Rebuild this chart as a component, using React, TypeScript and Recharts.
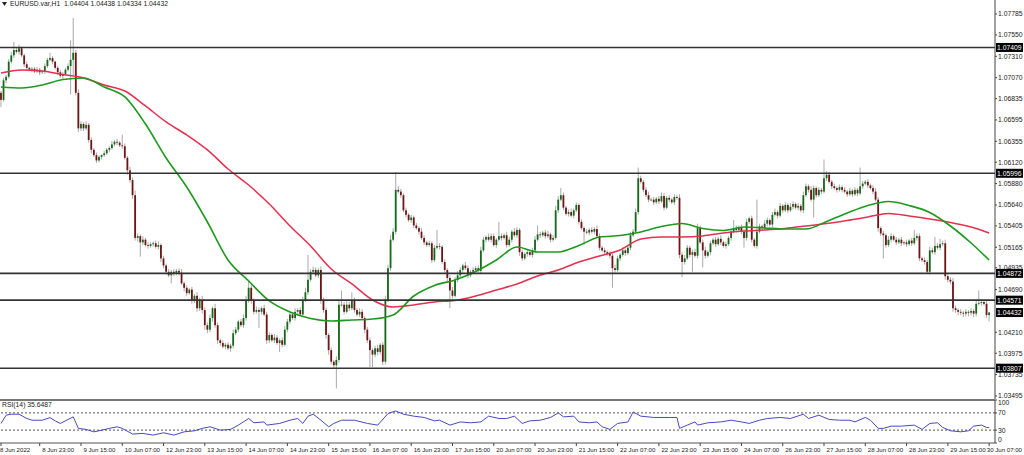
import React from "react";
import { ComposedChart, Bar, Line, XAxis, YAxis, ReferenceLine } from "recharts";

const FONT = '"Liberation Sans", Arial, sans-serif';
const BULL = "#15691a";
const BEAR = "#6e1616";
const WICK = "#a9a9a9";

// prices are kept in pips above this base
const BASE = 1.03;

const firstOpen = 390;

const closes = [
  382, 404, 408, 425, 432, 438, 436, 440, 432, 422, 418, 416, 417, 414, 416, 413,
  414, 420, 427, 429, 425, 418, 413, 409, 411, 416, 420, 427, 435, 390, 350, 355,
  350, 354, 337, 326, 320, 314, 318, 320, 322, 326, 328, 332, 335, 334, 331, 330,
  317, 303, 292, 275, 227, 229, 222, 225, 219, 218, 220, 221, 217, 219, 204, 196,
  189, 185, 189, 187, 190, 188, 176, 171, 165, 169, 157, 162, 148, 157, 146, 129,
  124, 137, 148, 129, 112, 109, 105, 107, 103, 106, 120, 124, 133, 129, 137, 157,
  171, 157, 144, 146, 144, 148, 141, 112, 118, 112, 115, 109, 112, 107, 124, 133,
  141, 137, 144, 146, 141, 157, 166, 180, 189, 191, 185, 191, 157, 146, 118, 101,
  88, 84, 90, 152, 152, 144, 152, 148, 157, 146, 141, 144, 137, 124, 112, 101,
  96, 103, 99, 107, 88, 157, 193, 225, 234, 281, 279, 275, 258, 253, 247, 250,
  241, 238, 234, 227, 222, 219, 221, 202, 216, 218, 217, 200, 191, 182, 168, 162,
  180, 185, 191, 196, 193, 185, 189, 191, 193, 190, 213, 225, 228, 225, 229, 219,
  225, 229, 227, 230, 219, 225, 234, 230, 236, 211, 204, 209, 211, 208, 213, 225,
  231, 230, 233, 229, 231, 225, 227, 258, 270, 275, 261, 254, 256, 252, 258, 264,
  245, 238, 234, 233, 236, 234, 237, 229, 216, 213, 211, 209, 207, 193, 191, 204,
  208, 213, 210, 216, 230, 234, 256, 294, 290, 281, 275, 270, 270, 267, 271, 268,
  274, 261, 272, 270, 267, 273, 272, 208, 200, 204, 216, 208, 211, 207, 238, 222,
  213, 207, 211, 221, 225, 220, 226, 222, 218, 220, 227, 234, 238, 236, 239, 234,
  227, 245, 249, 225, 218, 234, 240, 238, 243, 247, 242, 253, 256, 252, 263, 258,
  264, 258, 262, 265, 261, 263, 258, 275, 285, 281, 270, 283, 275, 281, 279, 294,
  298, 290, 285, 283, 281, 284, 281, 279, 276, 280, 276, 281, 277, 285, 288, 290,
  286, 283, 279, 270, 238, 232, 230, 219, 225, 229, 225, 222, 225, 221, 222, 220,
  224, 221, 227, 229, 204, 202, 200, 189, 213, 211, 218, 216, 220, 221, 184, 180,
  178, 148, 146, 144, 143, 142, 144, 143, 145, 142, 153, 154, 155, 153, 140.4, 143.2,
];

const wickUp = [
  2, 3, 2, 3, 4, 9, 3, 4, 2, 2, 3, 1, 2, 2, 3, 2,
  2, 3, 2, 6, 2, 1, 2, 3, 2, 2, 3, 22, 39, 3, 4, 3,
  2, 4, 2, 3, 2, 3, 2, 1, 3, 2, 2, 4, 2, 3, 2, 12,
  3, 2, 4, 3, 5, 3, 2, 4, 2, 3, 2, 2, 3, 4, 2, 3,
  2, 3, 2, 3, 2, 3, 4, 2, 3, 2, 3, 2, 4, 3, 5, 3,
  3, 4, 2, 5, 3, 2, 3, 2, 3, 2, 4, 3, 2, 3, 4, 5,
  9, 3, 2, 4, 3, 2, 4, 3, 3, 2, 4, 3, 2, 3, 4, 3,
  2, 3, 4, 2, 3, 4, 5, 28, 3, 4, 3, 2, 4, 3, 3, 2,
  3, 2, 4, 5, 16, 3, 4, 3, 9, 3, 2, 4, 3, 2, 3, 3,
  2, 3, 4, 2, 3, 5, 4, 5, 4, 20, 4, 3, 2, 3, 2, 3,
  2, 3, 2, 4, 3, 2, 3, 2, 3, 18, 3, 2, 3, 2, 3, 4,
  3, 5, 3, 2, 4, 3, 2, 3, 2, 3, 4, 3, 2, 4, 3, 3,
  2, 16, 3, 2, 4, 3, 2, 4, 3, 2, 3, 2, 3, 2, 3, 4,
  10, 3, 2, 3, 4, 2, 3, 5, 4, 8, 3, 2, 3, 4, 2, 3,
  2, 3, 2, 3, 2, 3, 2, 4, 3, 2, 3, 2, 3, 2, 4, 3,
  2, 3, 2, 3, 4, 3, 4, 12, 3, 2, 3, 4, 2, 3, 2, 3,
  4, 3, 2, 3, 2, 3, 2, 4, 3, 4, 3, 2, 3, 4, 5, 3,
  3, 4, 2, 3, 2, 3, 2, 4, 2, 3, 2, 3, 9, 3, 2, 3,
  3, 4, 2, 3, 2, 36, 3, 2, 4, 3, 2, 3, 4, 2, 3, 2,
  3, 2, 4, 3, 2, 3, 2, 4, 3, 2, 4, 3, 2, 3, 2, 21,
  4, 3, 2, 3, 2, 3, 2, 3, 2, 3, 2, 3, 2, 21, 3, 2,
  3, 2, 3, 4, 3, 2, 3, 2, 4, 3, 2, 3, 2, 3, 2, 3,
  2, 3, 9, 3, 3, 2, 3, 2, 4, 3, 10, 3, 6, 3, 4, 3,
  3, 4, 3, 2, 3, 2, 3, 2, 3, 2, 4, 14, 3, 2, 3, 0.6,
];

const wickDown = [
  8, 2, 3, 2, 2, 3, 2, 3, 2, 3, 2, 2, 3, 2, 2, 3,
  2, 3, 2, 2, 3, 2, 3, 2, 3, 2, 2, 32, 19, 3, 4, 3,
  3, 2, 3, 4, 2, 3, 2, 3, 2, 2, 3, 2, 2, 3, 2, 3,
  2, 5, 3, 4, 3, 4, 16, 3, 2, 3, 2, 3, 2, 3, 4, 3,
  3, 2, 9, 3, 2, 3, 2, 4, 3, 2, 4, 3, 4, 3, 4, 5,
  4, 3, 4, 3, 4, 3, 2, 3, 2, 4, 3, 2, 3, 2, 3, 3,
  3, 4, 3, 2, 18, 3, 2, 4, 3, 2, 3, 2, 10, 3, 2, 3,
  3, 2, 3, 4, 2, 3, 2, 3, 2, 3, 2, 3, 4, 3, 4, 5,
  3, 4, 26, 3, 2, 3, 2, 3, 2, 3, 2, 3, 2, 4, 3, 19,
  14, 3, 4, 3, 4, 3, 2, 3, 2, 3, 2, 3, 2, 3, 2, 3,
  3, 2, 3, 2, 3, 2, 2, 3, 2, 2, 3, 2, 3, 4, 20, 3,
  2, 3, 2, 3, 2, 3, 2, 3, 2, 3, 3, 2, 3, 2, 3, 2,
  3, 2, 3, 2, 3, 2, 3, 2, 3, 4, 3, 2, 3, 2, 3, 2,
  2, 3, 2, 3, 2, 3, 2, 2, 3, 2, 3, 2, 3, 2, 3, 2,
  3, 2, 15, 2, 3, 2, 3, 2, 3, 2, 3, 2, 3, 22, 3, 2,
  3, 2, 3, 2, 3, 2, 2, 3, 2, 3, 2, 3, 2, 3, 2, 3,
  2, 3, 2, 3, 2, 3, 2, 4, 17, 3, 2, 3, 19, 2, 3, 2,
  19, 3, 2, 3, 2, 3, 2, 3, 2, 3, 2, 3, 2, 3, 2, 3,
  11, 3, 2, 3, 2, 3, 2, 3, 2, 3, 2, 3, 2, 3, 2, 3,
  2, 3, 2, 3, 2, 3, 2, 3, 2, 3, 2, 20, 3, 2, 3, 2,
  3, 2, 3, 2, 3, 2, 3, 2, 3, 2, 3, 2, 3, 2, 3, 2,
  3, 2, 3, 2, 4, 3, 26, 3, 2, 3, 2, 3, 2, 3, 2, 3,
  2, 3, 2, 3, 3, 2, 3, 2, 3, 2, 3, 2, 3, 2, 4, 3,
  3, 4, 3, 4, 3, 4, 3, 4, 3, 4, 3, 2, 3, 2, 3, 7,
];

// moving averages read every 8 bars
const maIndex = [
  0, 8, 16, 24, 32, 40, 48, 56, 64, 72, 80, 88, 96, 104, 112, 120, 128, 136, 144, 152,
  160, 168, 176, 184, 192, 200, 208, 216, 224, 232, 240, 248, 256, 264, 272, 280, 288,
  296, 304, 312, 320, 328, 336, 344, 352, 360, 368, 376, 383,
];
const maFast = [
  396.5, 395.4, 398.7, 404.9, 406.6, 396.5, 385.3, 354.9, 316.8, 284.2, 244.9, 202.2,
  178.6, 156.2, 143.8, 136.5, 133.7, 134.8, 135.9, 140.5, 161.8, 173.6, 179.8, 189.3,
  202.2, 216.8, 211.2, 211.2, 218.5, 228.0, 229.7, 233.7, 239.8, 243.2, 237.6, 235.4,
  239.3, 238.2, 237.0, 237.0, 245.5, 255.0, 263.4, 267.9, 263.4, 255.6, 240.4, 221.3, 202.2,
];
const maSlow = [
  412.2, 415.6, 414.5, 410.5, 406.6, 398.7, 392.0, 375.2, 357.2, 342.6, 325.8, 304.4,
  286.4, 265.1, 240.4, 217.9, 192.1, 175.3, 157.3, 149.4, 151.7, 155.1, 156.7, 161.8,
  168.5, 175.3, 184.3, 191.0, 200.0, 206.7, 213.5, 225.8, 228.0, 228.0, 229.2, 232.5,
  234.8, 235.9, 237.6, 240.4, 243.2, 246.6, 250.5, 254.4, 251.6, 248.3, 244.3, 239.3, 232.5,
];

const rsiIndex = [
  0, 2, 4, 7, 10, 12, 16, 19, 21, 23, 26, 28, 30, 33, 36, 38, 42, 45, 47, 51,
  55, 59, 63, 67, 71, 75, 78, 81, 85, 89, 92, 96, 98, 102, 103, 108, 112, 115, 117, 119,
  121, 124, 127, 129, 132, 137, 142, 146, 150, 153, 156, 160, 164, 168, 170, 174, 178, 182, 186, 189,
  193, 196, 199, 202, 205, 209, 213, 216, 218, 222, 224, 228, 231, 233, 236, 239, 243, 245, 248, 253,
  259, 262, 263, 266, 269, 270, 274, 279, 283, 287, 290, 294, 297, 302, 306, 311, 313, 317, 321, 325,
  329, 331, 335, 337, 340, 342, 345, 349, 354, 357, 360, 363, 365, 368, 372, 375, 377, 380, 382, 383,
];
const rsiValues = [
  45.5, 64.7, 67, 67, 57, 53, 53, 59, 51.5, 45.5, 54.7, 60.8, 33.9, 31.6, 26, 28.4, 34, 37.7, 34, 20.8,
  22.3, 18.4, 23.8, 18.4, 26, 28.4, 34, 37.7, 30, 31.6, 41.6, 57, 47, 49, 41.6, 45.5, 53, 57, 45.5, 62.4,
  67, 53, 37.7, 45.5, 53, 53, 45.5, 41.6, 68.6, 74.6, 67, 62.4, 59.4, 51.5, 53, 41.6, 49, 47, 49, 62.4,
  57, 57, 62.4, 45.5, 51.5, 53, 59.4, 70, 60.8, 62.4, 49, 47, 49, 37.7, 31.6, 45.5, 49, 72.3, 62.4, 59.4,
  59.4, 59.4, 34, 41.6, 49, 41.6, 47, 49, 53, 49, 45.5, 53, 57, 59.4, 57, 67, 57, 64.7, 54.7, 53,
  53, 49, 59.4, 53, 34, 34, 39.2, 39.2, 41.6, 31.6, 45.5, 47, 36.2, 28.4, 26, 28.4, 39.2, 41.6, 36.2, 35.65,
];

const timeIndex = [0, 15, 31, 47, 63, 79, 95, 111, 127, 143, 159, 175, 191, 207, 223, 239, 255, 271, 287, 303, 319, 335, 351, 367, 383];
const timeLabels = [
  "8 Jun 2022", "8 Jun 23:00", "9 Jun 15:00", "10 Jun 07:00", "12 Jun 23:00", "13 Jun 15:00",
  "14 Jun 07:00", "14 Jun 23:00", "15 Jun 15:00", "16 Jun 07:00", "16 Jun 23:00", "17 Jun 15:00",
  "20 Jun 07:00", "20 Jun 23:00", "21 Jun 15:00", "22 Jun 07:00", "22 Jun 23:00", "23 Jun 15:00",
  "24 Jun 07:00", "26 Jun 23:00", "27 Jun 15:00", "28 Jun 07:00", "28 Jun 23:00", "29 Jun 15:00",
  "30 Jun 07:00",
];

const priceTicks = [
  1.07785, 1.0755, 1.0731, 1.0707, 1.06835, 1.06595, 1.06355, 1.0612, 1.0588, 1.0564,
  1.05405, 1.05165, 1.04935, 1.0469, 1.0421, 1.03975, 1.03735, 1.03495,
];
const levels = [1.07409, 1.05996, 1.04872, 1.04571, 1.03807];
const lastPrice = 1.04432;
const rsiTicks = [0, 30, 70, 100];

const X_DOMAIN: [number, number] = [-1 / 2.58, 994 / 2.58];
const Y_DOMAIN: [number, number] = [1.03461, 1.07942];

const toPrice = (p: number) => +(BASE + p / 10000).toFixed(5);

const mainRows: any[] = closes.map((c, i) => {
  const o = i === 0 ? firstOpen : closes[i - 1];
  const hi = Math.max(o, c) + wickUp[i];
  const lo = Math.min(o, c) - wickDown[i];
  return {
    i,
    open: toPrice(o),
    close: toPrice(c),
    high: toPrice(hi),
    low: toPrice(lo),
    range: [toPrice(lo), toPrice(hi)],
  };
});
maIndex.forEach((idx, k) => {
  mainRows[idx].fast = toPrice(maFast[k]);
  mainRows[idx].slow = toPrice(maSlow[k]);
});

const rsiRows = rsiIndex.map((i, k) => ({ i, rsi: rsiValues[k] }));

const Candle = (props: any) => {
  const { x, y, width, height, payload } = props;
  if (!payload || x == null) return null;
  const { open, close, high, low } = payload;
  const cx = x + width / 2;
  const span = high - low;
  const k = span > 0 ? height / span : 0;
  const yOf = (p: number) => y + (high - p) * k;
  const top = yOf(Math.max(open, close));
  const bottom = yOf(Math.min(open, close));
  return (
    <g>
      <line x1={cx} x2={cx} y1={y} y2={y + height} stroke={WICK} strokeWidth={1} />
      <rect
        x={cx - 0.9}
        y={top}
        width={1.8}
        height={Math.max(bottom - top, 0.8)}
        fill={close >= open ? BULL : BEAR}
      />
    </g>
  );
};

const PriceTag = ({ viewBox, text }: any) => {
  if (!viewBox) return null;
  const x = viewBox.x + viewBox.width + 1;
  const y = viewBox.y;
  return (
    <g>
      <rect x={x} y={y - 4.5} width={27} height={9} fill="#000" />
      <text x={x + 1} y={y + 2.4} fontSize={6.8} fill="#fff" fontFamily={FONT}>
        {text}
      </text>
    </g>
  );
};

const TimeTick = (props: any) => {
  const { x, y, payload } = props;
  const k = timeIndex.indexOf(payload.value);
  const last = k === timeIndex.length - 1;
  const tx = k === 0 ? 0 : last ? 1022 : x + 2.5;
  return (
    <g>
      <line x1={x} x2={x} y1={y} y2={y + 3} stroke="#444" strokeWidth={1} />
      <text
        x={tx}
        y={y + 8.8}
        fontSize={6.1}
        fill="#222"
        fontFamily={FONT}
        textAnchor={last ? "end" : "start"}
      >
        {timeLabels[k]}
      </text>
    </g>
  );
};

const RsiTick = (props: any) => {
  const { x, y, payload } = props;
  const v = payload.value;
  const dy = v === 100 ? 3 : v === 0 ? -3.5 : 0;
  return (
    <text x={x} y={y + dy + 2.4} fontSize={6.8} fill="#222" fontFamily={FONT}>
      {v}
    </text>
  );
};

export default function App() {
  return (
    <div
      style={{
        position: "absolute",
        left: 0,
        top: 0,
        width: 1024,
        height: 455,
        background: "#fff",
        overflow: "hidden",
        fontFamily: FONT,
      }}
    >
      <div style={{ position: "absolute", left: 0, top: 0 }}>
        <ComposedChart width={1024} height={400} data={mainRows} margin={{ top: 0, right: 0, bottom: 1, left: 0 }}>
          <XAxis dataKey="i" type="number" domain={X_DOMAIN} hide allowDataOverflow />
          <YAxis
            orientation="right"
            type="number"
            domain={Y_DOMAIN}
            ticks={priceTicks}
            interval={0}
            width={29}
            tickSize={2}
            tickMargin={1}
            allowDataOverflow
            tick={{ fontSize: 6.8, fill: "#222", fontFamily: FONT }}
            tickFormatter={(v) => Number(v).toFixed(5)}
            axisLine={{ stroke: "#444" }}
            tickLine={{ stroke: "#444" }}
          />
          <Bar dataKey="range" shape={Candle} isAnimationActive={false} />
          <Line dataKey="slow" type="monotone" stroke="#e6304f" strokeWidth={1.5} dot={false} connectNulls isAnimationActive={false} />
          <Line dataKey="fast" type="monotone" stroke="#1d9a1d" strokeWidth={1.6} dot={false} connectNulls isAnimationActive={false} />
          {levels.map((l) => (
            <ReferenceLine
              key={l}
              y={l}
              stroke="#333"
              strokeWidth={1.6}
              label={(p: any) => <PriceTag viewBox={p.viewBox} text={l.toFixed(5)} />}
            />
          ))}
          <ReferenceLine
            y={lastPrice}
            stroke="none"
            label={(p: any) => <PriceTag viewBox={p.viewBox} text={lastPrice.toFixed(5)} />}
          />
        </ComposedChart>
      </div>

      <div style={{ position: "absolute", left: 0, top: 0 }}>
        <ComposedChart width={1024} height={455} data={rsiRows} margin={{ top: 400, right: 0, bottom: 0, left: 0 }}>
          <XAxis
            dataKey="i"
            type="number"
            domain={X_DOMAIN}
            ticks={timeIndex}
            interval={0}
            height={12}
            tickSize={0}
            tickMargin={0}
            allowDataOverflow
            tick={<TimeTick />}
            axisLine={{ stroke: "#555" }}
          />
          <YAxis
            orientation="right"
            type="number"
            domain={[0, 100]}
            ticks={rsiTicks}
            interval={0}
            width={29}
            tickSize={2}
            tickMargin={1}
            tick={<RsiTick />}
            axisLine={{ stroke: "#444" }}
            tickLine={{ stroke: "#444" }}
          />
          <ReferenceLine y={100} stroke="#777" strokeWidth={2} />
          <ReferenceLine y={70} stroke="#555" strokeDasharray="2 2" />
          <ReferenceLine y={30} stroke="#555" strokeDasharray="2 2" />
          <Line dataKey="rsi" type="linear" stroke="#4848c4" strokeWidth={1} dot={false} isAnimationActive={false} />
        </ComposedChart>
      </div>

      <div
        style={{
          position: "absolute",
          left: 2,
          top: 0,
          fontSize: 6.8,
          color: "#222",
          whiteSpace: "pre",
          display: "flex",
          alignItems: "center",
        }}
      >
        <svg width={5} height={4} style={{ marginRight: 3 }}>
          <polygon points="0,0 5,0 2.5,4" fill="#222" />
        </svg>
        {"EURUSD.var,H1  1.04404 1.04438 1.04334 1.04432"}
      </div>
      <div style={{ position: "absolute", left: 2, top: 401, fontSize: 6.8, color: "#222", whiteSpace: "pre" }}>
        RSI(14) 35.6487
      </div>
    </div>
  );
}
